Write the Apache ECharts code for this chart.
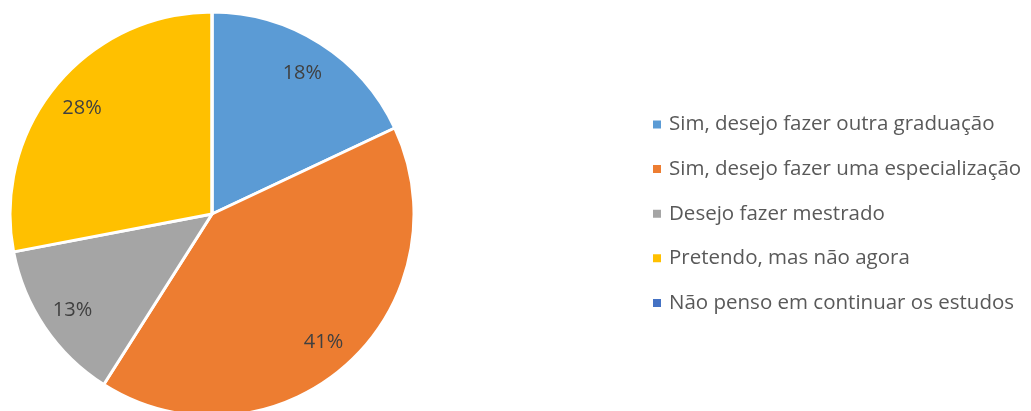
<!DOCTYPE html>
<html><head><meta charset="utf-8">
<script src="https://cdn.jsdelivr.net/npm/echarts@6/dist/echarts.min.js"></script>
<style>html,body{margin:0;padding:0;background:#fff}#c{width:1031px;height:411px}</style>
</head><body><div id="c"></div>
<script>
const categories = ["Sim, desejo fazer outra graduação","Sim, desejo fazer uma especialização","Desejo fazer mestrado","Pretendo, mas não agora","Não penso em continuar os estudos"];
const values = [18, 41, 13, 28, 0];
const colors = ["#5B9BD5","#ED7D31","#A5A5A5","#FFC000","#4472C4"];

const data = categories.map((n,i)=>({name:n,value:values[i],itemStyle:{color:colors[i]}}));
const chart = echarts.init(document.getElementById('c'), null, {renderer:'canvas'});
const R = 202;
chart.setOption({
  animation:false,
  color: colors,
  legend:{
    orient:'vertical', left:646, top:108,
    itemWidth:10, itemHeight:10, itemGap:21.6,
    icon:'rect',
    textStyle:{fontFamily:'Open Sans', fontSize:20.5, lineHeight:23, color:'#595959', padding:[0,0,0,2]},
    data: categories
  },
  series:[
    {
      type:'pie', center:[212,214], radius:[0,R], startAngle:90, clockwise:true,
      data:data, label:{show:false}, labelLine:{show:false},
      itemStyle:{borderColor:'#fff', borderWidth:3},
      emphasis:{disabled:true}
    },
    {
      type:'pie', center:[212,216], radius:[R*0.64,R], startAngle:90, clockwise:true,
      silent:true, legendHoverLink:false,
      data: categories.map((n,i)=>({name:n+' ', value:values[i], itemStyle:{color:'transparent'}})),
      itemStyle:{borderWidth:0},
      label:{show:true, position:'inside', fontFamily:'Open Sans', fontSize:20, color:'#404040',
        formatter:p=> p.value ? Math.round(p.percent)+'%' : ''},
      labelLine:{show:false},
      emphasis:{disabled:true}
    }
  ]
});
</script></body></html>
